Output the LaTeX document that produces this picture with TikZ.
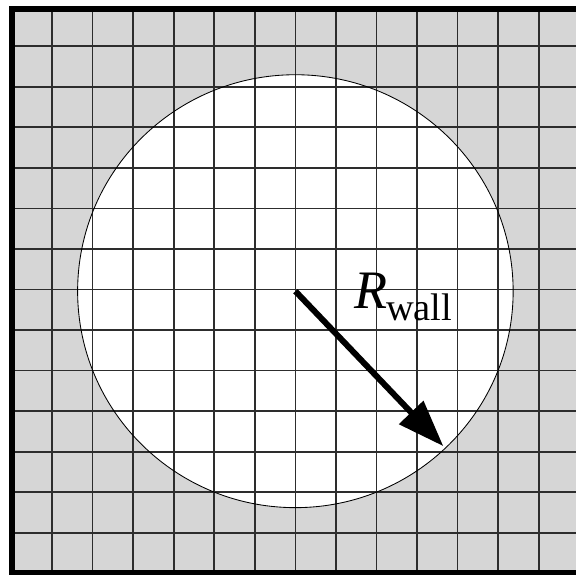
\documentclass[tikz,border=0pt]{standalone}
\usepackage{fontspec}
\setmainfont{Liberation Serif}
\usetikzlibrary{arrows.meta}
\definecolor{wallgray}{RGB}{214, 214, 214}
\definecolor{meshline}{RGB}{45, 45, 45}

\begin{document}
\begin{tikzpicture}[x=1cm, y=0.994cm,
  cellgrid/.style={draw=meshline, line width=1.2pt},
  radiusarrow/.style={-{Triangle[length=11.5mm, width=8mm]}, line width=4.2pt},
  ]
  \useasboundingbox (-0.284, -0.04) rectangle (13.92, 14.224);

  % solid wall cells and fluid disc
  \fill[wallgray] (0, 0) rectangle (14, 14);
  \fill[white] (7, 7) circle (5.37);
  \draw[cellgrid] (0, 0) grid (14, 14);
  \draw[line width=0.6pt] (7, 7) circle (5.37);
  \draw[line width=4.2pt] (0, 0) rectangle (14, 14);

  \coordinate (centre) at (7, 7);
  \coordinate (rim) at ([shift={(-46.5:5.3)}]centre);
  \draw[radiusarrow] (centre) -- (rim);

  \node[anchor=base west, inner sep=0pt] (rlabel) at (8.45, 6.57)
    {\fontsize{38}{38}\selectfont\textit{R}\kern-1pt\raisebox{-8.4pt}{\fontsize{27}{27}\selectfont wall}};
\end{tikzpicture}
\end{document}
